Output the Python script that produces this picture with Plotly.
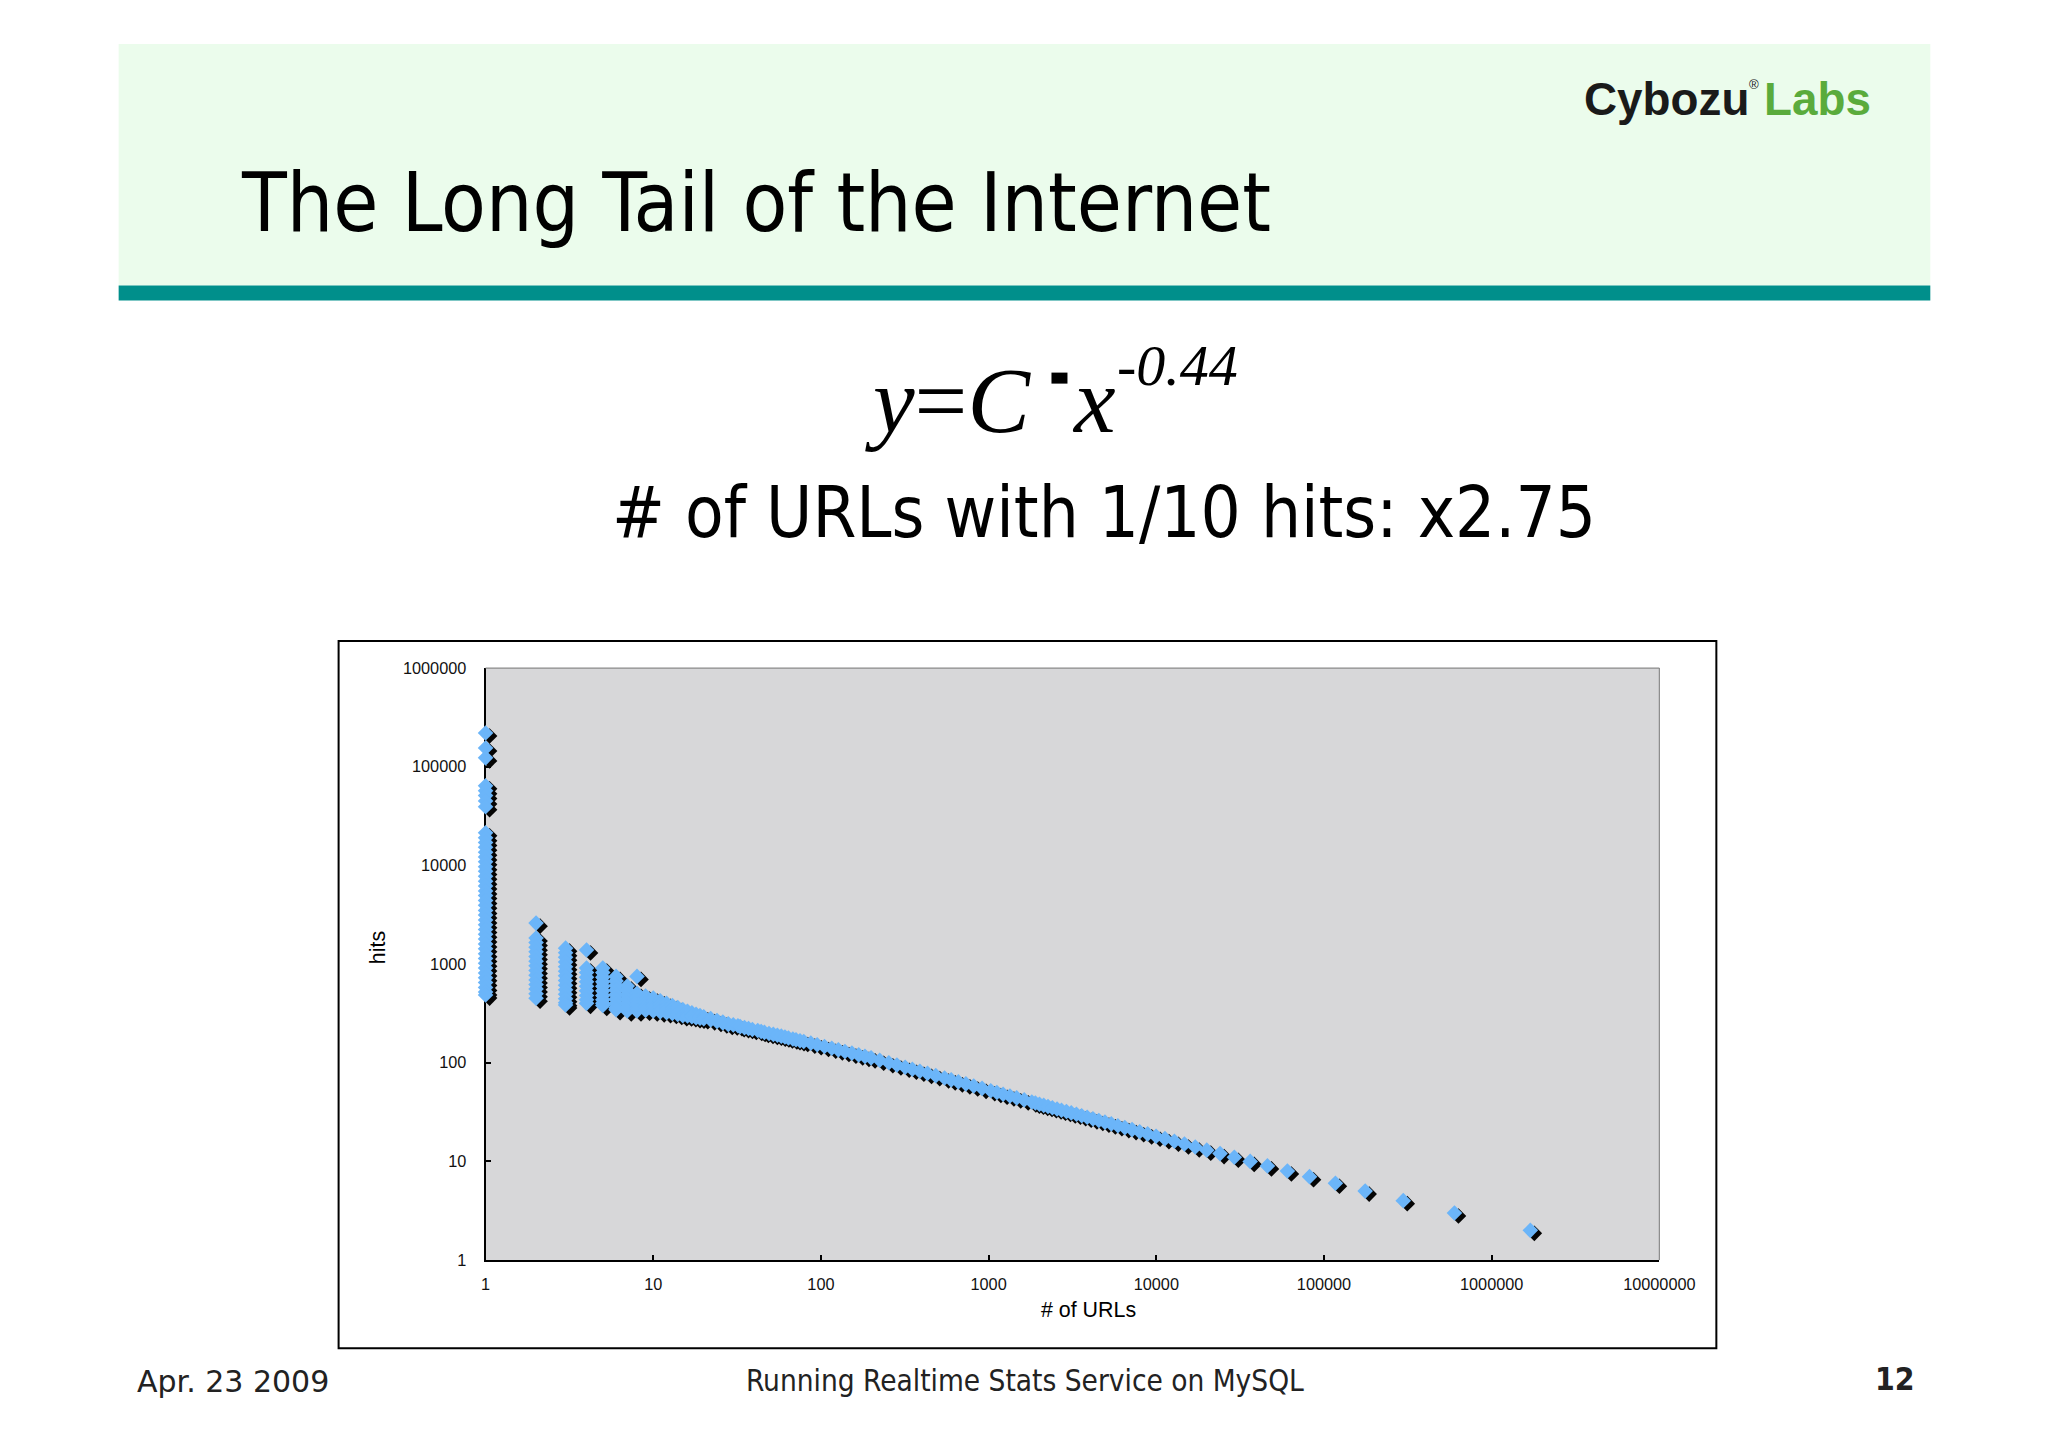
import plotly.graph_objects as go

# page (window) size and the default 8px body margin of the html page
W, H = 2048, 1447
M = 8
FW, FH = W - 2 * M, H - 2 * M

# measured mapping of the capture: shown = A + B * page pixel
AX, BX = 4.5, 0.980
AY, BY = 9.1, 0.9858
FS = 1 / 0.982   # font / marker compensation for that mapping

# ---------------- data ----------------
x_tick_vals = [1, 10, 100, 1000, 10000, 100000, 1000000, 10000000]
x_tick_text = ["1", "10", "100", "1000", "10000", "100000", "1000000", "10000000"]
y_tick_vals = [1, 10, 100, 1000, 10000, 100000, 1000000]
y_tick_text = ["1", "10", "100", "1000", "10000", "100000", "1000000"]

# hit counts that occur for exactly one URL  (# of URLs = 1)
single_url_hits = [220000, 155000, 123000,
                   64000, 57000, 51000, 45000, 39300,
                   21400, 19100, 17100, 15300, 13600, 12200, 10900, 9700, 8700,
                   7750, 6900, 6200, 5500, 4950, 4400, 3950, 3500, 3150, 2800,
                   2500, 2240, 2000, 1790, 1600, 1430, 1270, 1140, 1020, 910,
                   810, 725, 650, 580, 520, 485]

# small URL counts: hit counts observed for each count of URLs
multi_url_counts = [2, 3, 4, 5, 6, 7, 8, 9, 10, 11, 12, 13, 14, 15, 16, 17, 18,
                    19, 20, 22, 24, 26, 28]
multi_url_hits = [
    [2600, 1840, 1650, 1480, 1330, 1190, 1070, 960, 860, 770, 690, 620, 560, 500, 450],
    [1450, 1300, 1170, 1050, 940, 845, 760, 680, 610, 550, 495, 445, 405, 385],
    [1390, 910, 820, 735, 660, 595, 535, 480, 435, 400],
    [910, 820, 735, 660, 595, 535, 480, 435, 400, 380],
    [750, 675, 605, 545, 490, 440, 395, 360, 345],
    [600, 540, 485, 440, 400, 365, 335],
    [750, 505, 460, 420, 385, 355, 335],
    [475, 435, 400, 368, 340],
    [452, 415, 382, 355, 335],
    [425, 392, 362, 338, 328],
    [400, 370, 345, 322],
    [380, 352, 330, 315],
    [362, 338, 318, 308],
    [345, 324, 306, 300],
    [332, 313, 298],
    [320, 303, 292],
    [310, 296, 286],
    [300, 290, 282],
    [292, 284, 279],
    [280, 272],
    [268, 262],
    [258, 253],
    [248, 244],
]

# the long tail: hit count -> number of URLs having that hit count
tail_hits = [242, 237, 232, 227, 222, 217, 212, 207, 203, 198, 194, 190, 186, 182,
             178, 174, 171, 167, 164, 158, 152, 146, 140, 135, 130, 125, 120, 116,
             112, 106, 100, 95, 90, 86, 82, 78, 74, 70, 67, 64, 61, 58, 55, 52,
             50, 48, 46, 44, 42, 40, 39, 38, 37, 36, 35, 34, 33, 32, 31, 30, 29,
             28, 27, 26, 25, 24, 23, 22, 21, 20, 19, 18, 17, 16, 15, 14, 13, 12,
             11, 10, 9, 8, 7, 6, 5, 4, 3, 2]
tail_urls = [30, 32, 33, 35, 37, 39, 42, 44, 46, 49, 52, 55, 58, 61,
             64, 68, 71, 75, 79, 87, 95, 105, 116, 127, 139, 153, 168, 183,
             199, 224, 254, 284, 318, 351, 389, 432, 484, 546, 598, 660, 732, 815, 914, 1030,
             1120, 1220, 1340, 1470, 1630, 1810, 1900, 2010, 2130, 2260, 2400, 2560, 2720, 2910, 3110, 3340, 3590,
             3870, 4190, 4540, 4940, 5390, 5900, 6490, 7170, 7960, 8880, 9970, 11260, 12830, 14720, 17070, 20000, 24000,
             29200, 36300, 46000, 60500, 82000, 117000, 176000, 297000, 600000, 1700000]

# ---------------- assemble points ----------------
xs, ys = [], []
for h in single_url_hits:
    xs.append(1)
    ys.append(h)
for n, hl in zip(multi_url_counts, multi_url_hits):
    for h in hl:
        xs.append(n)
        ys.append(h)
for h, n in zip(tail_hits, tail_urls):
    xs.append(n)
    ys.append(h)


def PX(t):
    """target pixel x -> paper fraction"""
    p = (t - AX) / BX
    return (p - M) / FW


def PY(t):
    """target pixel y (from top) -> paper fraction"""
    p = (t - AY) / BY
    return 1 - (p - M) / FH


def F(s):
    return round(s * FS, 1)


# plot area in target pixels
L, R, T, B = 485, 1659, 667, 1258
dom_x = [PX(L), PX(R)]
dom_y = [PY(B), PY(T)]

fig = go.Figure()
MS = 12
# shadow (drawn on base axes that are shifted a few pixels)
fig.add_trace(go.Scatter(x=xs, y=ys, mode="markers", xaxis="x", yaxis="y",
                         marker=dict(symbol="diamond", size=MS, color="#050505", line=dict(width=0)),
                         cliponaxis=False, hoverinfo="skip", showlegend=False))
# blue points
fig.add_trace(go.Scatter(x=xs, y=ys, mode="markers", xaxis="x2", yaxis="y2",
                         marker=dict(symbol="diamond", size=MS, color="#6bb5f9", line=dict(width=0)),
                         cliponaxis=False, hoverinfo="skip", showlegend=False))

tick_font = dict(family="Liberation Sans, Arial, sans-serif", size=F(16), color="#111")
dx_shift = 4 / ((R - L) / 7.0)
dy_shift = 3 / ((B - T) / 6.0)

fig.update_layout(
    width=FW, height=FH,
    margin=dict(l=0, r=0, t=0, b=0, pad=0),
    paper_bgcolor="white",
    plot_bgcolor="#d7d7d9",
    showlegend=False,
    xaxis=dict(type="log", range=[0 - dx_shift, 7 - dx_shift], domain=dom_x, visible=False,
               anchor="y", fixedrange=True),
    yaxis=dict(type="log", range=[0 + dy_shift, 6 + dy_shift], domain=dom_y, visible=False,
               anchor="x", fixedrange=True),
    xaxis2=dict(type="log", range=[0, 7], domain=dom_x, overlaying="x", anchor="y2",
                showline=True, linecolor="black", linewidth=2, showgrid=False, zeroline=False,
                ticks="inside", ticklen=5, tickwidth=1.5, tickcolor="black",
                tickvals=x_tick_vals, ticktext=x_tick_text, tickfont=tick_font,
                ticklabelstandoff=8, layer="below traces", fixedrange=True),
    yaxis2=dict(type="log", range=[0, 6], domain=dom_y, overlaying="y", anchor="x2",
                showline=True, linecolor="black", linewidth=2, showgrid=False, zeroline=False,
                ticks="inside", ticklen=5, tickwidth=1.5, tickcolor="black",
                tickvals=y_tick_vals, ticktext=y_tick_text, tickfont=tick_font,
                ticklabelstandoff=14, layer="below traces", fixedrange=True),
)

shapes = [
    # header band
    dict(type="rect", xref="paper", yref="paper", x0=PX(118), x1=PX(1930), y0=PY(285), y1=PY(44),
         fillcolor="#ebfcec", line=dict(width=0), layer="below"),
    dict(type="rect", xref="paper", yref="paper", x0=PX(118), x1=PX(1930), y0=PY(300), y1=PY(285),
         fillcolor="#008f8b", line=dict(width=0), layer="below"),
    # chart frame
    dict(type="rect", xref="paper", yref="paper", x0=PX(338), x1=PX(1716), y0=PY(1346), y1=PY(640),
         fillcolor="rgba(0,0,0,0)", line=dict(color="black", width=2), layer="below"),
    # plot area top / right border
    dict(type="line", xref="paper", yref="paper", x0=PX(L), x1=PX(R), y0=PY(T), y1=PY(T),
         line=dict(color="#8a8a8a", width=1.2)),
    dict(type="line", xref="paper", yref="paper", x0=PX(R), x1=PX(R), y0=PY(T), y1=PY(B),
         line=dict(color="#8a8a8a", width=1.2)),
    # multiplication dot in the formula
    dict(type="rect", xref="paper", yref="paper", x0=PX(1051), x1=PX(1067), y0=PY(383), y1=PY(372),
         fillcolor="black", line=dict(width=0)),
]
fig.update_layout(shapes=shapes)

SANS = "DejaVu Sans Condensed, DejaVu Sans, sans-serif"
SANS_WIDE = "DejaVu Sans, sans-serif"
SERIF = "Liberation Serif, Times New Roman, serif"
LOGO = "Liberation Sans, Arial, sans-serif"


def ann(text, x, y, size, family=SANS, color="black", xanchor="left", yanchor="middle", angle=0):
    fig.add_annotation(text=text, x=PX(x), y=PY(y), xref="paper", yref="paper",
                       xanchor=xanchor, yanchor=yanchor, showarrow=False, textangle=angle,
                       font=dict(family=family, size=F(size), color=color))


# header
ann("The Long Tail of the Internet", 238, 202, 80)
ann("<b>Cybozu</b>", 1582, 99, 45, family=LOGO, color="#1a1a1a")
ann("®", 1747, 84, 13, family=LOGO, color="#1a1a1a")
ann("<b>Labs</b>", 1762, 99, 45, family=LOGO, color="#5aab3c")

# formula and subtitle
ann("<i>y</i>=<i>C</i>", 862, 400, 92, family=SERIF)
ann("<i>x</i>", 1070, 400, 92, family=SERIF)
ann("<i>-0.44</i>", 1115, 365, 57, family=SERIF)
ann("# of URLs with 1/10 hits: x2.75", 609, 512, 69)

# axis titles
ann("hits", 377, 946, 21, family=LOGO, xanchor="center", angle=-90)
ann("# of URLs", 1088, 1308, 21, family=LOGO, xanchor="center")

# footer
ann("Apr. 23 2009", 134, 1379, 29.5, family=SANS_WIDE, color="#222")
ann("Running Realtime Stats Service on MySQL", 1025, 1379, 29, color="#222", xanchor="center")
ann("<b>12</b>", 1917, 1377, 31, color="#222", xanchor="right")

fig.write_html("out.html", config={"displayModeBar": False})
